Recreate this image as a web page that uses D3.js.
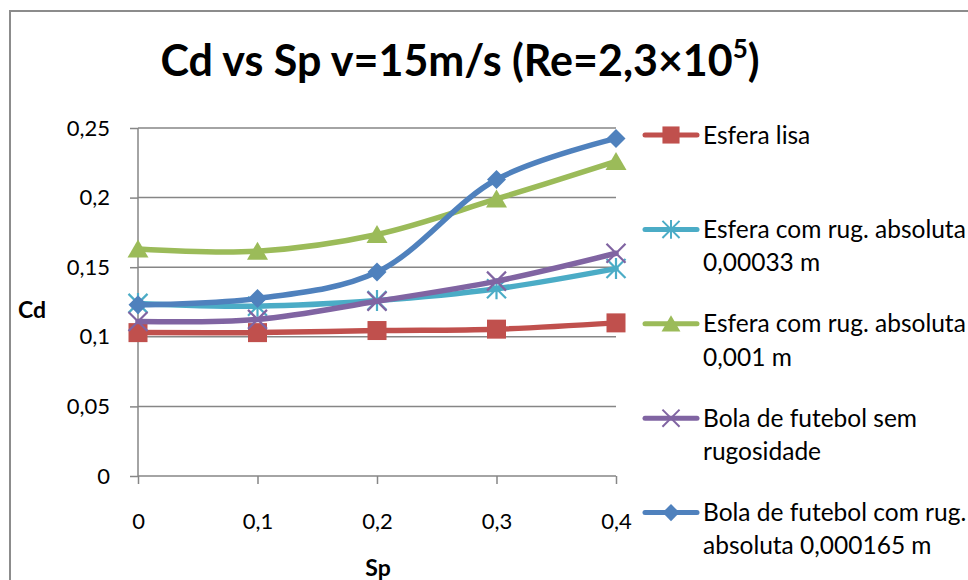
<!DOCTYPE html>
<html>
<head>
<meta charset="utf-8">
<script src="https://cdn.jsdelivr.net/npm/d3@7"></script>
<style>
  body { margin: 0; background: #fff; }
  svg { display: block; }
  text { font-family: Lato, "Open Sans", sans-serif; fill: #000; }
</style>
</head>
<body>
<svg id="chart" width="968" height="580"></svg>
<script>
// Spin parameter (Sp) on the x axis
const spValues = [0, 0.1, 0.2, 0.3, 0.4];

// Drag coefficient (Cd) for each configuration
const esferaLisa   = [0.103, 0.103, 0.1045, 0.1055, 0.110];
const esferaRug033 = [0.124, 0.122, 0.126, 0.1345, 0.149];
const esferaRug001 = [0.163, 0.1615, 0.1735, 0.199, 0.226];
const bolaSemRug   = [0.111, 0.1125, 0.1255, 0.140, 0.160];
const bolaComRug   = [0.123, 0.1275, 0.1465, 0.213, 0.2425];

const seriesLabels = [
  ["Esfera lisa"],
  ["Esfera com rug. absoluta", "0,00033 m"],
  ["Esfera com rug. absoluta", "0,001 m"],
  ["Bola de futebol sem", "rugosidade"],
  ["Bola de futebol com rug.", "absoluta 0,000165 m"]
];
const seriesColors = ["#C0504D", "#4BACC6", "#9BBB59", "#8064A2", "#4F81BD"];
const seriesMarkers = ["square", "star", "triangle", "x", "diamond"];

const yTicks = [0, 0.05, 0.1, 0.15, 0.2, 0.25];

const seriesValues = [esferaLisa, esferaRug033, esferaRug001, bolaSemRug, bolaComRug];
const series = seriesValues.map((vals, i) => ({
  label: seriesLabels[i],
  color: seriesColors[i],
  marker: seriesMarkers[i],
  points: vals.map((v, j) => ({ x: spValues[j], y: v }))
}));

const svg = d3.select("#chart");
const ptBR = d3.formatLocale({ decimal: ",", thousands: ".", grouping: [3], currency: ["R$", ""] });
const fmt = ptBR.format("");

const x = d3.scaleLinear().domain([0, 0.4]).range([138, 616]);
const y = d3.scaleLinear().domain([0, 0.25]).range([476, 128]);

const gridColor = "#868686";

// Chart frame
svg.append("rect")
  .attr("x", 10).attr("y", 11)
  .attr("width", 980).attr("height", 600)
  .attr("fill", "none").attr("stroke", "#8c8c8c").attr("stroke-width", 2);

// Title
const title = svg.append("text")
  .attr("x", 460).attr("y", 76)
  .attr("text-anchor", "middle")
  .attr("font-size", 43).attr("font-weight", 700)
  .text("Cd vs Sp v=15m/s (Re=2,3×10");
title.append("tspan").attr("font-size", 26).attr("dy", -18).text("5");
title.append("tspan").attr("dy", 18).text(")");

// Horizontal gridlines
svg.append("g")
  .selectAll("line")
  .data(yTicks.filter(d => d > 0))
  .join("line")
  .attr("x1", x(0)).attr("x2", x(0.4))
  .attr("y1", d => y(d)).attr("y2", d => y(d))
  .attr("stroke", gridColor).attr("stroke-width", 1.5);

// Y axis
const yAxis = svg.append("g")
  .attr("transform", `translate(${x(0)},0)`)
  .call(d3.axisLeft(y).tickValues(yTicks).tickSize(8).tickPadding(20).tickFormat(fmt));

// X axis
const xAxis = svg.append("g")
  .attr("transform", `translate(0,${y(0)})`)
  .call(d3.axisBottom(x).tickValues(spValues).tickSize(8).tickPadding(29).tickFormat(fmt));

[yAxis, xAxis].forEach(g => {
  g.select(".domain").attr("stroke", gridColor).attr("stroke-width", 1.5);
  g.selectAll(".tick line").attr("stroke", gridColor).attr("stroke-width", 1.5);
  g.selectAll(".tick text")
    .attr("font-family", "Lato, sans-serif")
    .attr("font-size", 22)
    .attr("fill", "#000");
});
xAxis.select(".domain").attr("d", `M${x(0)},0H${x(0.4)}`);
yAxis.select(".domain").attr("d", `M0,${y(0)}V${y(0.25)}`);

// Axis titles
svg.append("text")
  .attr("x", 18).attr("y", 318)
  .attr("font-size", 23).attr("font-weight", 700)
  .text("Cd");
svg.append("text")
  .attr("x", 378).attr("y", 576)
  .attr("text-anchor", "middle")
  .attr("font-size", 23).attr("font-weight", 700)
  .text("Sp");

// Marker drawing
function drawMarker(g, type, color) {
  const s = 9.5;
  if (type === "square") {
    g.append("rect").attr("x", -s).attr("y", -s).attr("width", 2 * s).attr("height", 2 * s)
      .attr("fill", color);
  } else if (type === "diamond") {
    g.append("path").attr("d", `M0,${-s}L${s},0L0,${s}L${-s},0Z`).attr("fill", color);
  } else if (type === "triangle") {
    g.append("path").attr("d", `M0,${-s}L${s + 1},${s - 1}L${-s - 1},${s - 1}Z`).attr("fill", color);
  } else if (type === "x") {
    g.append("path").attr("d", `M${-s},${-s}L${s},${s}M${s},${-s}L${-s},${s}`)
      .attr("stroke", color).attr("stroke-width", 2.2).attr("fill", "none");
  } else if (type === "star") {
    g.append("path").attr("d", `M${-s},${-s}L${s},${s}M${s},${-s}L${-s},${s}M0,${-s - 1}V${s + 1}`)
      .attr("stroke", color).attr("stroke-width", 2.2).attr("fill", "none");
  }
}

// Series lines and markers
const line = d3.line()
  .x(d => x(d.x))
  .y(d => y(d.y))
  .curve(d3.curveCatmullRom.alpha(0.5));

series.forEach(s => {
  const g = svg.append("g");
  g.append("path")
    .datum(s.points)
    .attr("d", line)
    .attr("fill", "none")
    .attr("stroke", s.color)
    .attr("stroke-width", 5.5)
    .attr("stroke-linecap", "round")
    .attr("stroke-linejoin", "round");
  g.selectAll("g.marker")
    .data(s.points)
    .join("g")
    .attr("class", "marker")
    .attr("transform", d => `translate(${x(d.x)},${y(d.y)})`)
    .each(function () { drawMarker(d3.select(this), s.marker, s.color); });
});

// Legend
const legend = svg.append("g");
series.forEach((s, i) => {
  const cy = 135 + i * 94.4;
  const item = legend.append("g").attr("transform", `translate(0,${cy})`);
  item.append("line")
    .attr("x1", 645).attr("x2", 697).attr("y1", 0).attr("y2", 0)
    .attr("stroke", s.color).attr("stroke-width", 5).attr("stroke-linecap", "round");
  const m = item.append("g").attr("transform", "translate(671,0) scale(0.9)");
  drawMarker(m, s.marker, s.color);
  const t = item.append("text")
    .attr("x", 703).attr("y", 8.5)
    .attr("font-size", 24.5);
  s.label.forEach((ln, k) => {
    t.append("tspan").attr("x", 703).attr("dy", k === 0 ? 0 : 33.4).text(ln);
  });
});
</script>
</body>
</html>
